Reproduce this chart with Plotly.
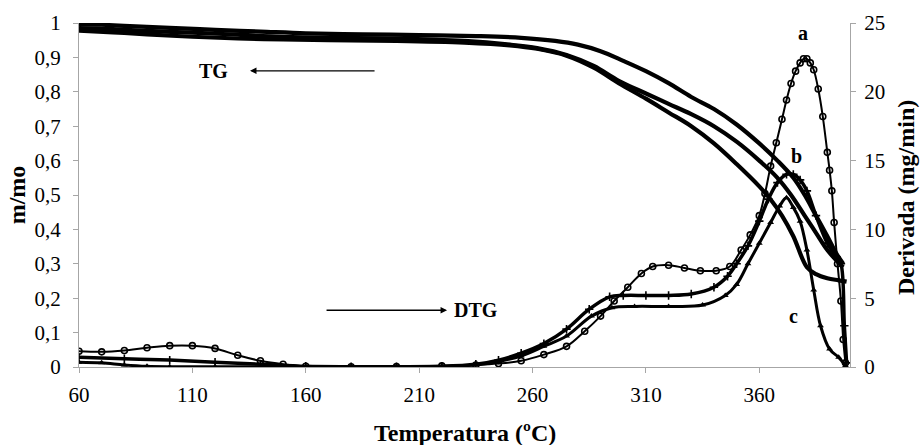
import plotly.graph_objects as go

# ---------------- data ----------------
tg1_T = [60, 70, 85, 100, 120, 140, 160, 185, 210, 235, 255, 270, 280, 290, 300, 310, 320, 330, 340, 350, 360, 368, 375, 380, 385, 390, 394, 397]
tg1_m = [0.997, 0.995, 0.99, 0.986, 0.98, 0.975, 0.97, 0.967, 0.965, 0.962, 0.957, 0.948, 0.937, 0.918, 0.89, 0.86, 0.825, 0.785, 0.75, 0.705, 0.65, 0.60, 0.55, 0.50, 0.44, 0.38, 0.33, 0.30]

tg2_T = [60, 75, 90, 110, 130, 150, 170, 200, 230, 250, 262, 275, 287, 298, 310, 320, 330, 340, 350, 360, 368, 374, 380, 385, 390, 394, 397]
tg2_m = [0.985, 0.982, 0.977, 0.972, 0.966, 0.96, 0.957, 0.955, 0.948, 0.937, 0.927, 0.907, 0.875, 0.832, 0.795, 0.765, 0.735, 0.70, 0.655, 0.60, 0.55, 0.50, 0.44, 0.39, 0.34, 0.31, 0.29]

tg3_T = [60, 75, 90, 110, 130, 150, 170, 200, 230, 250, 262, 275, 287, 298, 310, 320, 330, 340, 350, 360, 365, 370, 375, 381, 385, 390, 395, 398.5]
tg3_m = [0.978, 0.973, 0.967, 0.96, 0.955, 0.952, 0.95, 0.948, 0.943, 0.935, 0.925, 0.905, 0.87, 0.825, 0.78, 0.74, 0.70, 0.65, 0.59, 0.525, 0.487, 0.44, 0.38, 0.29, 0.27, 0.258, 0.252, 0.248]

dtg_a_T = [60, 70, 80, 90, 100, 110, 120, 130, 140, 150, 160, 180, 200, 220, 235, 245, 255, 265, 275, 283, 290, 296, 302, 308, 313, 320, 327, 334, 341, 347, 352, 356, 360, 362.5, 365, 367.5, 370, 372, 374, 376, 378, 379.5, 381, 382.5, 384, 386, 388, 390, 391, 392, 393, 394.5, 396, 397, 398]
dtg_a_d = [1.15, 1.1, 1.2, 1.4, 1.55, 1.55, 1.35, 0.85, 0.45, 0.2, 0.05, 0.02, 0.03, 0.08, 0.15, 0.25, 0.45, 0.9, 1.5, 2.6, 3.7, 4.8, 5.8, 6.8, 7.3, 7.4, 7.2, 7.0, 7.0, 7.3, 8.5, 9.6, 11.0, 12.6, 14.6, 16.3, 18.0, 19.4, 20.6, 21.5, 22.1, 22.4, 22.4, 22.1, 21.6, 20.2, 18.2, 15.6, 14.3, 12.8, 10.5, 7.5, 4.8, 2.0, 0.3]

dtg_b_T = [60, 80, 100, 120, 140, 160, 180, 200, 220, 235, 245, 255, 265, 275, 285, 294, 300, 310, 320, 330, 340, 346, 350, 355, 360, 364, 368, 372, 375, 378, 381, 385, 390, 394, 396, 397.5, 398.5]
dtg_b_d = [0.7, 0.6, 0.5, 0.35, 0.2, 0.05, 0.02, 0.02, 0.05, 0.2, 0.5, 1.0, 1.7, 2.75, 4.2, 5.1, 5.2, 5.2, 5.2, 5.3, 5.8, 6.6, 7.5, 8.8, 10.6, 12.2, 13.4, 14.0, 14.0, 13.6, 12.8, 11.0, 9.0, 8.0, 7.5, 3.0, 0.3]

dtg_c_T = [60, 70, 80, 90, 100, 120, 140, 160, 180, 200, 220, 235, 245, 255, 265, 275, 286, 295, 305, 320, 335, 345, 350, 355, 360, 365, 369, 372, 375, 378, 381, 384, 387, 391, 395, 398]
dtg_c_d = [0.35, 0.3, 0.15, 0.05, 0.02, 0.02, 0.02, 0.02, 0.02, 0.03, 0.05, 0.15, 0.4, 0.8, 1.5, 2.25, 3.7, 4.3, 4.4, 4.4, 4.5, 5.2, 6.0, 7.5, 9.0, 10.5, 11.7, 12.3, 11.6, 10.6, 8.5, 5.6, 3.0, 1.3, 0.7, 0.1]

x_ticks = [60, 110, 160, 210, 260, 310, 360]
y_left_ticks = [0, 0.1, 0.2, 0.3, 0.4, 0.5, 0.6, 0.7, 0.8, 0.9, 1]
y_left_labels = ["0", "0,1", "0,2", "0,3", "0,4", "0,5", "0,6", "0,7", "0,8", "0,9", "1"]
y_right_ticks = [0, 5, 10, 15, 20, 25]

FONT = "Times New Roman, Liberation Serif, DejaVu Serif, serif"
AX = "#a6a6a6"

fig = go.Figure()

for T, m in [(tg1_T, tg1_m), (tg2_T, tg2_m), (tg3_T, tg3_m)]:
    fig.add_trace(go.Scatter(x=T, y=m, mode="lines", line=dict(color="black", width=4.2, shape="spline"),
                             showlegend=False, yaxis="y"))

fig.add_trace(go.Scatter(x=dtg_a_T, y=dtg_a_d, mode="lines+markers", yaxis="y2", showlegend=False,
                         line=dict(color="black", width=2, shape="spline"),
                         marker=dict(symbol="circle-open", size=6, color="black", line=dict(width=1.6))))
fig.add_trace(go.Scatter(x=dtg_b_T, y=dtg_b_d, mode="lines+markers", yaxis="y2", showlegend=False,
                         line=dict(color="black", width=3.5, shape="spline"),
                         marker=dict(symbol="cross-thin-open", size=6, color="black", line=dict(width=1.6))))
fig.add_trace(go.Scatter(x=dtg_c_T, y=dtg_c_d, mode="lines+markers", yaxis="y2", showlegend=False,
                         line=dict(color="black", width=3, shape="spline"),
                         marker=dict(symbol="triangle-up", size=6, color="black")))

def tfont(size):
    return dict(family=FONT, size=size, color="black")

annots = [
    dict(x=119.5, y=0.86, text="<b>TG</b>", showarrow=False, xref="x", yref="y", font=tfont(20)),
    dict(x=135.4, y=0.861, ax=191, ay=0.861, xref="x", yref="y", axref="x", ayref="y", text="",
         showarrow=True, arrowhead=2, arrowsize=1, arrowwidth=1.3, arrowcolor="black"),
    dict(x=235, y=0.165, text="<b>DTG</b>", showarrow=False, xref="x", yref="y", font=tfont(20)),
    dict(x=222.3, y=0.165, ax=168.5, ay=0.165, xref="x", yref="y", axref="x", ayref="y", text="",
         showarrow=True, arrowhead=2, arrowsize=1, arrowwidth=1.3, arrowcolor="black"),
    dict(x=379.2, y=0.971, text="<b>a</b>", showarrow=False, xref="x", yref="y", font=tfont(20)),
    dict(x=376.6, y=0.612, text="<b>b</b>", showarrow=False, xref="x", yref="y", font=tfont(20)),
    dict(x=375.3, y=0.148, text="<b>c</b>", showarrow=False, xref="x", yref="y", font=tfont(20)),
    dict(x=-0.080, y=0.5, xref="paper", yref="paper", xanchor="center", yanchor="middle",
         text="<b>m/mo</b>", showarrow=False, textangle=-90, font=tfont(24)),
    dict(x=1.0726, y=0.494, xref="paper", yref="paper", xanchor="center", yanchor="middle",
         text="<b>Derivada (mg/min)</b>", showarrow=False, textangle=-90, font=tfont(24)),
    dict(x=0.5, y=-0.192, xref="paper", yref="paper", xanchor="center", yanchor="middle",
         text="<b>Temperatura (ºC)</b>", showarrow=False, font=tfont(24)),
]

fig.update_layout(
    width=921, height=445,
    margin=dict(l=79, r=71, t=23, b=78),
    paper_bgcolor="white", plot_bgcolor="white",
    font=tfont(20),
    showlegend=False,
    xaxis=dict(range=[60, 400], tickvals=x_ticks, showgrid=False, zeroline=False,
               showline=True, linecolor=AX, linewidth=1, ticks="outside", tickcolor=AX, ticklen=5,
               tickfont=tfont(21), ticklabelstandoff=4),
    yaxis=dict(range=[0, 1], tickvals=y_left_ticks, ticktext=y_left_labels, showgrid=False, zeroline=False,
               showline=True, linecolor=AX, linewidth=1, ticks="outside", tickcolor=AX, ticklen=5,
               tickfont=tfont(21), ticklabelstandoff=8),
    yaxis2=dict(range=[0, 25], tickvals=y_right_ticks, overlaying="y", side="right", showgrid=False,
                zeroline=False, showline=True, linecolor=AX, linewidth=1, ticks="outside", tickcolor=AX,
                ticklen=5, tickfont=tfont(21), ticklabelstandoff=4),
    annotations=annots,
)

fig.write_html("out.html")
